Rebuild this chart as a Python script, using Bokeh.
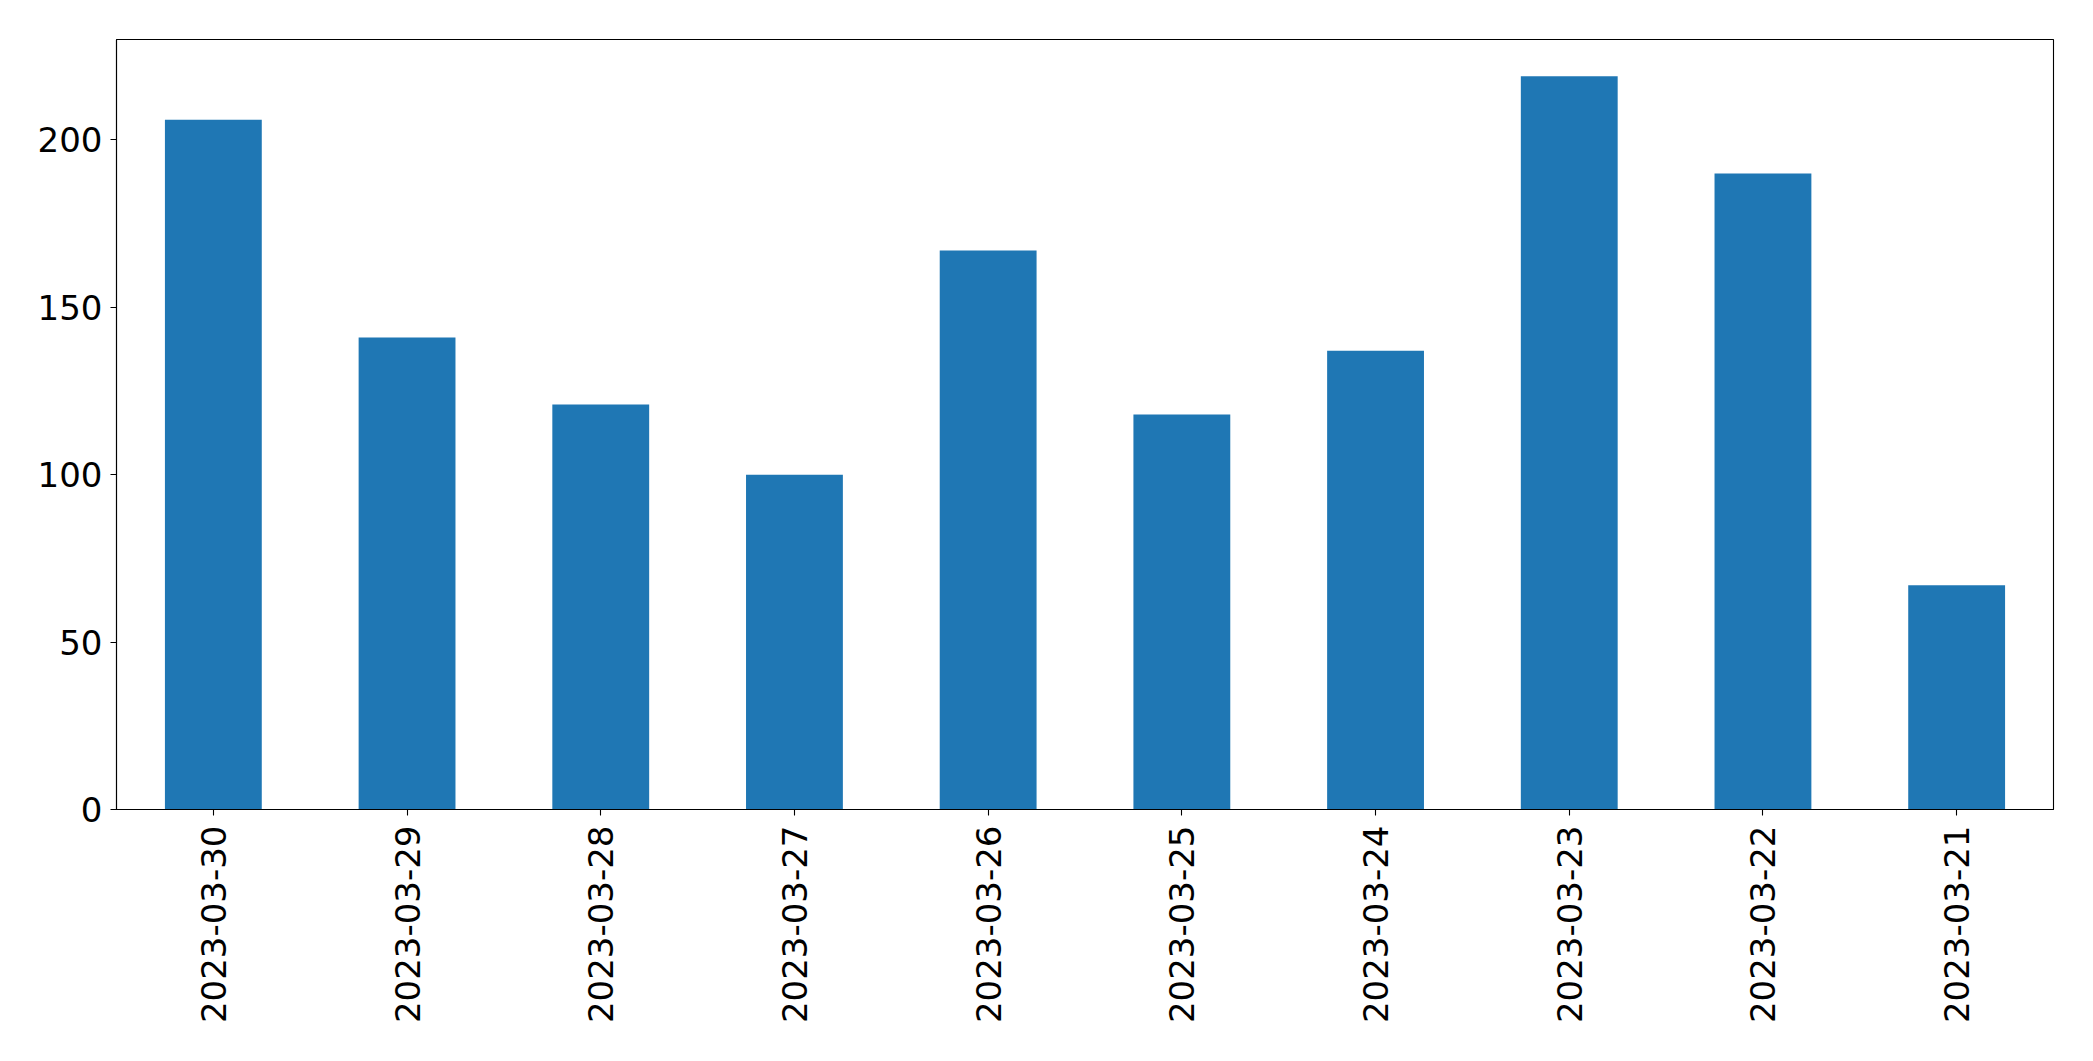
import math
from bokeh.plotting import figure
from bokeh.models import FactorRange, Range1d, FixedTicker, ColumnDataSource
from bokeh.embed import file_html
from bokeh.resources import INLINE

dates = ["2023-03-30", "2023-03-29", "2023-03-28", "2023-03-27", "2023-03-26",
         "2023-03-25", "2023-03-24", "2023-03-23", "2023-03-22", "2023-03-21"]
counts = [206, 141, 121, 100, 167, 118, 137, 219, 190, 67]
y_ticks = [0, 50, 100, 150, 200]

src = ColumnDataSource(dict(date=dates, count=counts))

p = figure(
    x_range=FactorRange(*dates, range_padding=0),
    y_range=Range1d(0, 230.0),
    width=2077, height=1045,
    frame_width=1937, frame_height=770,
    min_border_left=116, min_border_right=24,
    min_border_top=39, min_border_bottom=236,
    output_backend="svg", toolbar_location=None,
)

p.vbar(x="date", top="count", width=0.5, source=src,
       fill_color="#1f77b4", line_color=None)

p.xgrid.visible = False
p.ygrid.visible = False
p.outline_line_color = "black"
p.outline_line_width = 1.1
p.outline_line_alpha = 1.0

p.yaxis.ticker = FixedTicker(ticks=y_ticks)
for ax in (p.xaxis, p.yaxis):
    ax.axis_line_color = "black"
    ax.axis_line_width = 1.1
    ax.major_tick_line_color = "black"
    ax.major_tick_line_width = 1.1
    ax.major_tick_in = 0
    ax.major_tick_out = 6
    ax.minor_tick_line_color = None
    ax.major_label_text_font = "DejaVu Sans"
    ax.major_label_text_font_size = "34px"
    ax.major_label_text_color = "black"

p.xaxis.major_label_orientation = math.pi / 2
p.xaxis.major_label_standoff = 10
p.yaxis.major_label_standoff = 8

open("out.html", "w").write(file_html(p, INLINE))
